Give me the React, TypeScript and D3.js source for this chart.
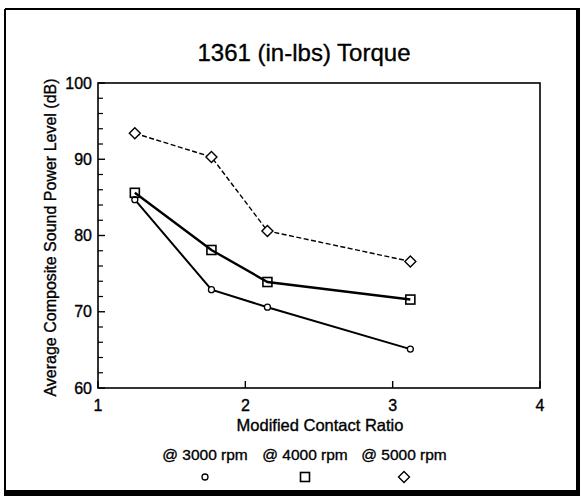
import React from "react";
import * as d3 from "d3";

const contactRatio = [1.25, 1.77, 2.15, 3.12];
const rpm3000 = [84.7, 72.9, 70.6, 65.1];
const rpm4000 = [85.6, 78.1, 73.9, 71.6];
const rpm5000 = [93.4, 90.3, 80.6, 76.6];
const seriesNames = ["@ 3000 rpm", "@ 4000 rpm", "@ 5000 rpm"];
const xTicks = [1, 2, 3, 4];
const yTicks = [60, 70, 80, 90, 100];
const yMinorTicks = d3.range(62, 100, 2).filter((v) => v % 10 !== 0);

const W = 582;
const H = 497;
const FONT = "'Liberation Sans', Arial, sans-serif";

export default function App() {
  const x = d3.scaleLinear().domain([1, 4]).range([98, 540]);
  const y = d3.scaleLinear().domain([60, 100]).range([388, 83]);
  const line = d3
    .line<number>()
    .x((_, i) => x(contactRatio[i]))
    .y((d) => y(d));

  const circle = (cx: number, cy: number, k: string) => (
    <circle key={k} cx={cx} cy={cy} r={3} fill="white" stroke="black" strokeWidth={1.3} />
  );
  const square = (cx: number, cy: number, k: string) => (
    <rect key={k} x={cx - 4.5} y={cy - 4.5} width={9} height={9} fill="none" stroke="black" strokeWidth={1.6} />
  );
  const diamond = (cx: number, cy: number, k: string) => (
    <path
      key={k}
      d={`M${cx},${cy - 5.5}L${cx + 5.5},${cy}L${cx},${cy + 5.5}L${cx - 5.5},${cy}Z`}
      fill="white"
      stroke="black"
      strokeWidth={1.4}
    />
  );

  const legendX = [205, 305, 404];
  const markers = [circle, square, diamond];
  const textStroke = { stroke: "black", strokeWidth: 0.35 };

  return (
    <svg
      width={W}
      height={H}
      style={{ position: "fixed", left: 0, top: 0, background: "white" }}
      fontFamily={FONT}
    >
      <rect x={0} y={0} width={W} height={H} fill="white" />
      {/* outer frame */}
      <line x1={5} y1={9} x2={5} y2={492} stroke="black" strokeWidth={2} />
      <line x1={5} y1={9} x2={578} y2={9} stroke="black" strokeWidth={2} />
      <line x1={578} y1={8} x2={578} y2={494} stroke="black" strokeWidth={4} />
      <line x1={4} y1={493} x2={580} y2={493} stroke="black" strokeWidth={6} />

      {/* title */}
      <text x={304} y={61} textAnchor="middle" fontSize={24} {...textStroke}>
        1361 (in-lbs) Torque
      </text>

      {/* plot box */}
      <rect x={98} y={83} width={442} height={305} fill="none" stroke="black" strokeWidth={1.6} />

      {/* y ticks */}
      {yTicks.map((t) => (
        <g key={"yt" + t}>
          <line x1={98} x2={105} y1={y(t)} y2={y(t)} stroke="black" strokeWidth={1.4} />
          <text x={92} y={y(t)} dy="0.35em" textAnchor="end" fontSize={16} {...textStroke}>
            {t}
          </text>
        </g>
      ))}
      {yMinorTicks.map((t) => (
        <line key={"ym" + t} x1={98} x2={103} y1={y(t)} y2={y(t)} stroke="black" strokeWidth={1.2} />
      ))}

      {/* x ticks */}
      {xTicks.map((t) => (
        <g key={"xt" + t}>
          <line x1={x(t)} x2={x(t)} y1={388} y2={381} stroke="black" strokeWidth={1.4} />
          <text x={x(t)} y={405} dy="0.35em" textAnchor="middle" fontSize={16} {...textStroke}>
            {t}
          </text>
        </g>
      ))}

      {/* axis titles */}
      <text x={320} y={425} dy="0.35em" textAnchor="middle" fontSize={16.5} {...textStroke}>
        Modified Contact Ratio
      </text>
      <text
        transform={`translate(50,${(78 + 397) / 2}) rotate(-90)`}
        textAnchor="middle"
        dy="0.35em"
        fontSize={16}
        {...textStroke}
      >
        Average Composite Sound Power Level (dB)
      </text>

      {/* series lines */}
      <path d={line(rpm5000) || ""} fill="none" stroke="black" strokeWidth={1.4} strokeDasharray="5,2.5" />
      <path d={line(rpm4000) || ""} fill="none" stroke="black" strokeWidth={2.4} />
      <path d={line(rpm3000) || ""} fill="none" stroke="black" strokeWidth={2} />

      {/* markers */}
      {rpm3000.map((v, i) => circle(x(contactRatio[i]), y(v), "c" + i))}
      {rpm4000.map((v, i) => square(x(contactRatio[i]), y(v), "s" + i))}
      {rpm5000.map((v, i) => diamond(x(contactRatio[i]), y(v), "d" + i))}

      {/* legend */}
      {seriesNames.map((name, i) => (
        <g key={"lg" + i}>
          <text x={legendX[i]} y={455} dy="0.35em" textAnchor="middle" fontSize={15.5} {...textStroke}>
            {name}
          </text>
          {markers[i](legendX[i], 477, "lm" + i)}
        </g>
      ))}
    </svg>
  );
}
